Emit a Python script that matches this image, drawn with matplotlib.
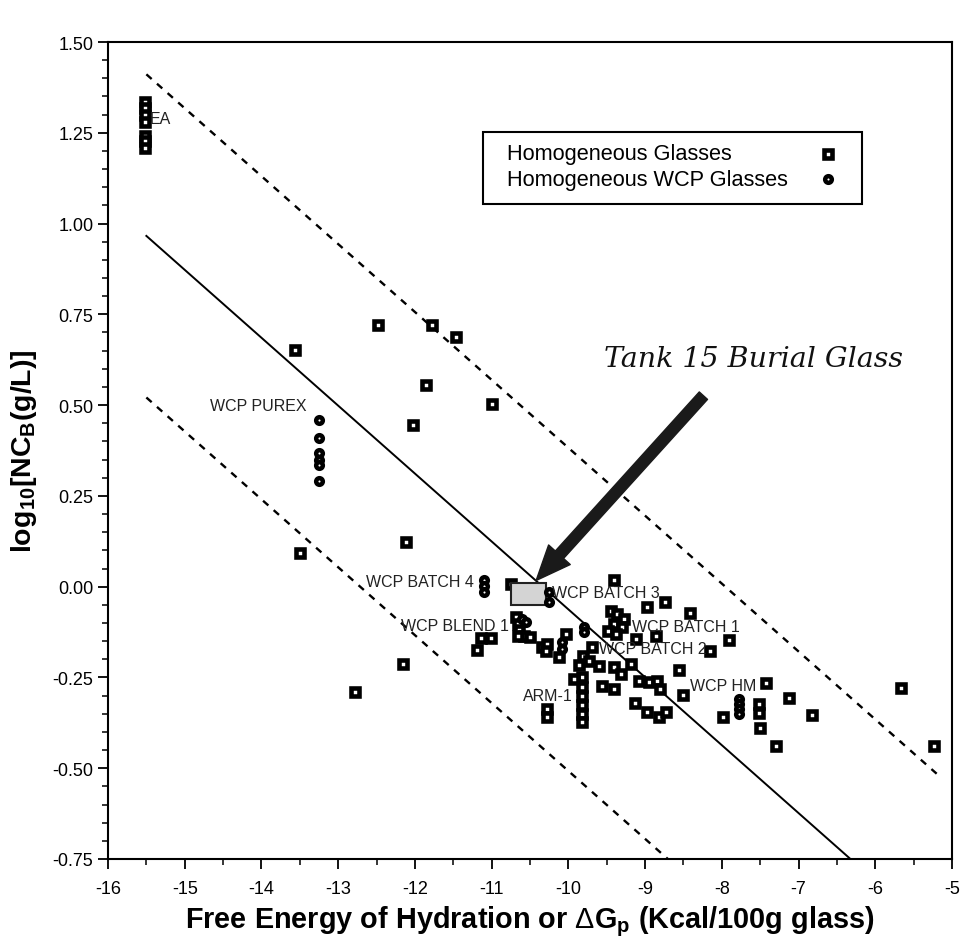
import matplotlib
matplotlib.use("Agg")
import matplotlib.pyplot as plt
from matplotlib.patches import Rectangle
import numpy as np

plt.rcParams['font.family'] = ['Liberation Sans', 'DejaVu Sans']
plt.rcParams['mathtext.fontset'] = 'custom'
plt.rcParams['mathtext.rm'] = 'Liberation Sans'
plt.rcParams['mathtext.bf'] = 'Liberation Sans:bold'

# ---------------- data ----------------
glass_x = [-15.52, -15.52, -15.52, -15.52, -15.52, -15.52, -15.52,
           -13.56, -12.48, -11.78, -11.47, -11.86, -12.03, -11.00,
           -12.12, -13.50, -12.16, -12.78,
           -10.75,
           -10.68, -10.66, -10.64, -10.58, -10.50, -10.66,
           -11.14, -11.01, -11.19,
           -10.35, -10.28, -10.29, -10.03, -10.12,
           -9.41, -8.98, -8.74, -8.42,
           -9.45, -9.36, -9.28, -9.41, -9.30, -9.48, -9.38,
           -9.12, -8.86,
           -9.82, -9.82, -9.82, -9.82, -9.82, -9.82, -9.93,
           -10.28, -10.28,
           -9.69, -9.81, -9.73, -9.86,
           -9.60, -9.41, -9.32, -9.19,
           -9.56, -9.41,
           -9.08, -8.95, -8.85, -8.80,
           -9.13, -8.98, -8.82, -8.73,
           -8.56, -8.16, -7.90, -8.50,
           -7.43, -7.13, -7.51, -7.51, -7.98, -7.50, -7.29, -6.82, -5.66, -5.23]
glass_y = [1.336, 1.317, 1.298, 1.281, 1.242, 1.226, 1.209,
           0.651, 0.720, 0.720, 0.687, 0.555, 0.445, 0.503,
           0.124, 0.094, -0.212, -0.289,
           0.006,
           -0.083, -0.102, -0.120, -0.135, -0.138, -0.135,
           -0.140, -0.140, -0.174,
           -0.165, -0.157, -0.178, -0.129, -0.193,
           0.017, -0.055, -0.041, -0.072,
           -0.068, -0.074, -0.088, -0.102, -0.110, -0.121, -0.130,
           -0.143, -0.135,
           -0.250, -0.275, -0.300, -0.325, -0.350, -0.372, -0.253,
           -0.336, -0.358,
           -0.165, -0.190, -0.204, -0.215,
           -0.218, -0.220, -0.240, -0.212,
           -0.273, -0.281,
           -0.259, -0.262, -0.259, -0.281,
           -0.320, -0.344, -0.358, -0.344,
           -0.229, -0.176, -0.146, -0.298,
           -0.264, -0.306, -0.322, -0.347, -0.358, -0.390, -0.438, -0.353, -0.278, -0.438]

wcp_x = [-13.25, -13.25, -13.25, -13.25, -13.25, -13.25,
         -11.10, -11.10, -11.10,
         -10.25, -10.25,
         -10.60, -10.55,
         -10.08, -10.08,
         -9.80, -9.80,
         -7.78, -7.78, -7.78, -7.78]
wcp_y = [0.459, 0.409, 0.368, 0.350, 0.335, 0.291,
         0.017, 0.003, -0.014,
         -0.014, -0.041,
         -0.088, -0.096,
         -0.152, -0.171,
         -0.110, -0.124,
         -0.310, -0.322, -0.337, -0.350]

# regression line and band:  y = fit_y0 + fit_slope * (x - fit_x0)
fit_x0 = -15.5
fit_y0 = 0.966
fit_slope = -0.187
band = 0.445
fit_x_end = -5.2

# Tank 15 burial glass region
tank_x = [-10.745, -10.297]
tank_y = [-0.050, 0.010]

group_labels = ["EA", "WCP PUREX", "WCP BATCH 4", "WCP BATCH 3", "WCP BLEND 1",
                "WCP BATCH 1", "WCP BATCH 2", "WCP HM", "ARM-1"]
label_x = [-15.46, -13.41, -11.23, -10.21, -10.77, -9.17, -9.60, -8.41, -9.94]
label_y = [1.289, 0.499, 0.014, -0.017, -0.107, -0.110, -0.171, -0.273, -0.300]
label_ha = ['left', 'right', 'right', 'left', 'right', 'left', 'left', 'left', 'right']

legend_labels = ["Homogeneous Glasses", "Homogeneous WCP Glasses"]

arrow_from = (-8.24, 0.526)
arrow_to = (-10.42, 0.017)
arrow_text = "Tank 15 Burial Glass"
arrow_text_pos = (-9.54, 0.628)

xticks = np.arange(-16, -4, 1)
yticks = [-0.75, -0.50, -0.25, 0.00, 0.25, 0.50, 0.75, 1.00, 1.25, 1.50]

# ---------------- plot ----------------
fig = plt.figure(figsize=(9.6, 9.45), dpi=100)
ax = fig.add_axes([108/960, 1-860/945, (952-108)/960, (860-43)/945])

ax.set_xlim(-16, -5)
ax.set_ylim(-0.75, 1.50)

xl = np.array([fit_x0, fit_x_end])
ax.plot(xl, fit_y0 + fit_slope*(xl-fit_x0), color='black', lw=1.4, zorder=1)
ax.plot(xl, fit_y0 + band + fit_slope*(xl-fit_x0), color='black', lw=1.7,
        ls=(0, (3, 3)), zorder=1)
ax.plot(xl, fit_y0 - band + fit_slope*(xl-fit_x0), color='black', lw=1.7,
        ls=(0, (3, 3)), zorder=1)

sq_kw = dict(ls='none', marker='s', ms=5.8, mew=3.3, mfc='white', mec='black')
ci_kw = dict(ls='none', marker='o', ms=4.8, mew=3.2, mfc='white', mec='black')
ax.plot(glass_x, glass_y, zorder=2, **sq_kw)

ax.add_patch(Rectangle((tank_x[0], tank_y[0]), tank_x[1]-tank_x[0], tank_y[1]-tank_y[0],
                       facecolor='#d4d4d4', edgecolor='#222222', lw=1.5, zorder=3))
ax.plot(wcp_x, wcp_y, zorder=4, **ci_kw)

for t, x, y, ha in zip(group_labels, label_x, label_y, label_ha):
    ax.text(x, y, t, ha=ha, va='center', fontsize=11.5, color='#222222', zorder=5)

ax.annotate('', xy=arrow_to, xytext=arrow_from,
            arrowprops=dict(width=8, headwidth=21, headlength=25,
                            facecolor='#1a1a1a', edgecolor='#1a1a1a', shrink=0),
            zorder=6)
ax.text(arrow_text_pos[0], arrow_text_pos[1], arrow_text, ha='left', va='center',
        fontsize=20.5, style='italic', family='DejaVu Serif', color='#111111')

# legend (drawn manually: text left-aligned, symbol at the right)
ax.add_patch(Rectangle((0.4443, 0.8017), 0.4491, 0.0881, transform=ax.transAxes,
                       facecolor='white', edgecolor='black', lw=1.5, zorder=7))
leg_rows = [0.863, 0.8323]
leg_styles = [sq_kw, ci_kw]
for lab, yy, kw in zip(legend_labels, leg_rows, leg_styles):
    ax.text(0.4727, yy, lab, transform=ax.transAxes, ha='left', va='center',
            fontsize=15.7, color='black', zorder=8)
    ax.plot([0.853], [yy], transform=ax.transAxes, zorder=8, **kw)

ax.set_xticks(xticks)
ax.set_xticks(np.arange(-16, -4.9, 0.5), minor=True)
ax.set_yticks(yticks)
ax.set_yticks(np.arange(-0.75, 1.501, 0.05), minor=True)
ax.set_xticklabels([str(v) for v in xticks])
ax.set_yticklabels([f"{v:.2f}" for v in yticks])
ax.tick_params(which='both', direction='out', color='black', labelsize=13)
ax.tick_params(axis='x', which='major', pad=8)
ax.tick_params(which='major', length=7, width=1.3)
ax.tick_params(which='minor', length=4, width=1.1)
for s in ax.spines.values():
    s.set_linewidth(1.5)

ax.set_xlabel(r'Free Energy of Hydration or $\Delta$G$_\mathbf{p}$ (Kcal/100g glass)',
              fontsize=20.8, fontweight='bold', labelpad=5)
ax.set_ylabel(r'log$_\mathbf{10}$[NC$_\mathbf{B}$(g/L)]', fontsize=20.5,
              fontweight='bold', labelpad=10)

fig.savefig('out.png', dpi=100)
